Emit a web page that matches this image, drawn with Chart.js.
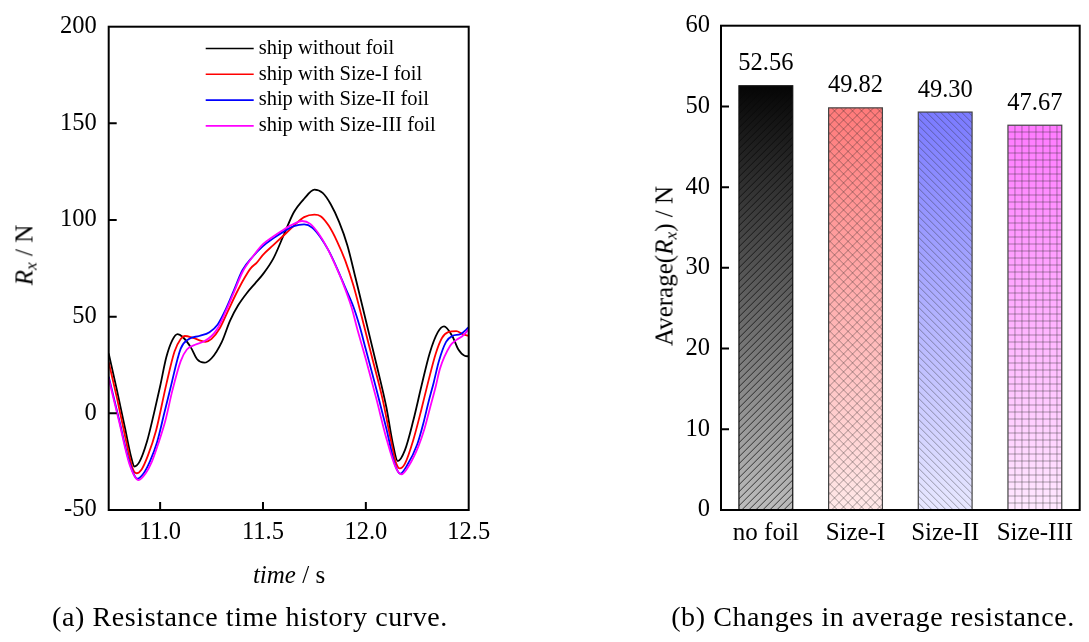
<!DOCTYPE html>
<html lang="en">
<head>
<meta charset="UTF-8">
<title>Resistance of ship with and without foil</title>
<script src="https://cdn.jsdelivr.net/npm/chart.js"></script>
<style>
  body { margin: 0; background: #fff; width: 1089px; height: 642px; position: relative; overflow: hidden; font-family: 'Liberation Serif', serif; color: #000; }
  canvas { position: absolute; top: 0; }
  .lbl { position: absolute; white-space: nowrap; transform: translate(-50%, -50%); font-size: 25px; line-height: 1; }
  .rot { transform: translate(-50%, -50%) rotate(-90deg); }
  .cap { font-size: 28px; letter-spacing: 0.6px; }
  sub { font-size: 0.7em; vertical-align: -0.25em; line-height: 0; }
</style>
</head>
<body>
<canvas id="lineChart" width="520" height="642" style="left:0"></canvas>
<canvas id="barChart" width="549" height="642" style="left:540px"></canvas>
<div class="lbl rot" style="left:24px; top:255px"><i>R</i><sub><i>x</i></sub> / N</div>
<div class="lbl" style="left:289px; top:574px"><i>time</i> / s</div>
<div class="lbl cap" style="left:250px; top:617px">(a) Resistance time history curve.</div>
<div class="lbl rot" style="left:664px; top:266px">Average(<i>R</i><sub><i>x</i></sub>) / N</div>
<div class="lbl cap" style="left:873px; top:617px">(b) Changes in average resistance.</div>
<script>
// (a) time history, one x/y pair of arrays per case
const timeTicks = [11.0, 11.5, 12.0, 12.5];
const seriesNames = ['ship without foil', 'ship with Size-I foil', 'ship with Size-II foil', 'ship with Size-III foil'];
const seriesColors = ['#000000', '#ff0000', '#0000ff', '#ff00ff'];

const tNoFoil = [10.75, 10.79, 10.83, 10.86, 10.875, 10.9, 10.935, 10.97, 11.0, 11.03, 11.06, 11.085, 11.11, 11.15, 11.18, 11.215, 11.25, 11.3, 11.34, 11.38, 11.42, 11.46, 11.5, 11.55, 11.6, 11.65, 11.7, 11.75, 11.79, 11.83, 11.87, 11.91, 11.95, 12.0, 12.05, 12.1, 12.13, 12.155, 12.19, 12.23, 12.27, 12.31, 12.35, 12.38, 12.42, 12.45, 12.48, 12.5];
const rxNoFoil = [31, 12, -8, -23, -27.5, -25, -15, 0, 14, 29, 38, 41, 39.5, 34, 28, 26.2, 28.5, 37, 48, 56, 62, 67, 72, 80, 92, 104, 111, 115.7, 114, 108, 99, 87, 70, 48, 26, 3, -15, -24.7, -19, -4, 14, 31, 42, 45, 40, 33, 29.8, 29.5];

const tSize1 = [10.75, 10.79, 10.83, 10.865, 10.885, 10.91, 10.94, 10.98, 11.03, 11.07, 11.1, 11.12, 11.16, 11.2, 11.22, 11.25, 11.29, 11.33, 11.37, 11.41, 11.44, 11.47, 11.5, 11.55, 11.6, 11.65, 11.7, 11.75, 11.78, 11.82, 11.86, 11.9, 11.94, 11.98, 12.03, 12.08, 12.12, 12.145, 12.165, 12.19, 12.23, 12.27, 12.3, 12.34, 12.37, 12.4, 12.44, 12.47, 12.5];
const rxSize1 = [26.5, 8, -12, -28, -31, -29, -22, -9, 15, 32, 38.5, 40, 39, 37.5, 37, 38.5, 44, 53, 62, 70, 75, 78, 82, 87, 92, 97, 101.5, 102.8, 102, 97, 89, 79, 66, 50, 29, 8, -13, -25, -28.5, -26, -14, 2, 15, 31, 39, 42, 42.5, 41, 40];

const tSize2 = [10.75, 10.8, 10.85, 10.89, 10.92, 10.95, 10.985, 11.02, 11.05, 11.1, 11.14, 11.19, 11.24, 11.28, 11.32, 11.36, 11.4, 11.45, 11.5, 11.55, 11.6, 11.65, 11.7, 11.74, 11.78, 11.82, 11.86, 11.9, 11.94, 11.97, 12.0, 12.05, 12.1, 12.14, 12.167, 12.2, 12.25, 12.28, 12.305, 12.33, 12.355, 12.39, 12.42, 12.46, 12.5];
const rxSize2 = [19, -3, -25, -33.8, -31, -25, -15, 0, 13, 33.5, 38.5, 40, 42, 46, 54, 64, 74, 81, 86.5, 90.5, 94, 96.8, 97.7, 96, 91, 84, 75, 65, 55, 45, 33, 13, -8, -26, -31.2, -27, -16, -5, 6, 16, 27, 37, 40, 41, 44.5];

const tSize3 = [10.75, 10.8, 10.85, 10.895, 10.93, 10.96, 10.99, 11.025, 11.06, 11.1, 11.13, 11.17, 11.21, 11.25, 11.28, 11.32, 11.36, 11.4, 11.45, 11.5, 11.55, 11.6, 11.65, 11.69, 11.73, 11.77, 11.81, 11.85, 11.89, 11.93, 11.96, 12.0, 12.05, 12.1, 12.145, 12.172, 12.21, 12.256, 12.285, 12.31, 12.34, 12.36, 12.41, 12.44, 12.47, 12.5];
const rxSize3 = [18, -4, -26, -34.5, -31, -25, -16, -4, 12, 27, 33, 35.5, 37, 40, 44, 53, 63, 73, 81, 87.5, 91.5, 95, 98, 99.5, 98, 93, 86, 77, 67, 55, 43, 28, 8, -13, -28, -31.6, -27, -17, -8, 2, 14, 23, 35, 38, 40, 43.5];

// (b) average resistance
const barLabels = ['no foil', 'Size-I', 'Size-II', 'Size-III'];
const barValues = [52.56, 49.82, 49.30, 47.67];
const barTopColors = ['#050505', '#ff7a7a', '#7a7aff', '#ff7aff'];
const barBottomColors = ['#bdbdbd', '#ffe8e8', '#e8e8ff', '#ffe8ff'];
const barHatches = ['/', 'x', '\\', '+'];

const serif = 'Liberation Serif';

function pairs(ts, ys) {
  return ts.map((t, i) => ({ x: t, y: ys[i] }));
}

// closed frame with inward tick marks
const framePlugin = {
  id: 'frame',
  afterDraw(chart, args, opts) {
    const { ctx, chartArea: a } = chart;
    ctx.save();
    ctx.strokeStyle = '#000';
    ctx.lineWidth = 2;
    ctx.strokeRect(a.left, a.top, a.right - a.left, a.bottom - a.top);
    ctx.beginPath();
    if (opts.xTicks) {
      const xs = chart.scales.x;
      xs.ticks.forEach(t => {
        const px = xs.getPixelForValue(t.value);
        if (px > a.left + 2 && px < a.right - 2) { ctx.moveTo(px, a.bottom); ctx.lineTo(px, a.bottom - 8); }
      });
    }
    const ys = chart.scales.y;
    ys.ticks.forEach(t => {
      const py = ys.getPixelForValue(t.value);
      if (py > a.top + 2 && py < a.bottom - 2) { ctx.moveTo(a.left, py); ctx.lineTo(a.left + 8, py); }
    });
    ctx.stroke();
    ctx.restore();
  }
};

const innerLegend = {
  id: 'innerLegend',
  afterDraw(chart) {
    const { ctx, chartArea: a } = chart;
    ctx.save();
    ctx.font = '20.5px "' + serif + '"';
    ctx.textBaseline = 'middle';
    ctx.textAlign = 'left';
    chart.data.datasets.forEach((ds, i) => {
      const y = a.top + 21.8 + i * 25.8;
      const x0 = a.left + 97;
      ctx.strokeStyle = ds.borderColor;
      ctx.lineWidth = 1.6;
      ctx.beginPath();
      ctx.moveTo(x0, y);
      ctx.lineTo(x0 + 48, y);
      ctx.stroke();
      ctx.fillStyle = '#000';
      ctx.fillText(ds.label, x0 + 53, y);
    });
    ctx.restore();
  }
};

const lineSeries = [pairs(tNoFoil, rxNoFoil), pairs(tSize1, rxSize1), pairs(tSize2, rxSize2), pairs(tSize3, rxSize3)];

new Chart(document.getElementById('lineChart'), {
  type: 'line',
  data: {
    datasets: lineSeries.map((pts, i) => ({
      label: seriesNames[i],
      data: pts,
      order: lineSeries.length - 1 - i,
      borderColor: seriesColors[i],
      borderWidth: 1.8,
      pointRadius: 0,
      fill: false,
      cubicInterpolationMode: 'monotone'
    }))
  },
  options: {
    responsive: false,
    animation: false,
    layout: { padding: { top: 20, right: 51.3, bottom: 0, left: 0 } },
    plugins: {
      legend: { display: false },
      tooltip: { enabled: false },
      frame: { xTicks: true }
    },
    scales: {
      x: {
        type: 'linear', min: 10.75, max: 12.5,
        grid: { display: false, drawTicks: false },
        border: { display: false },
        afterBuildTicks: s => { s.ticks = timeTicks.map(v => ({ value: v })); },
        afterFit: s => { s.height = 132; },
        ticks: { color: '#000', padding: 8, font: { family: serif, size: 24.5 }, callback: v => Number(v).toFixed(1) }
      },
      y: {
        min: -50, max: 200,
        grid: { display: false, drawTicks: false },
        border: { display: false },
        afterFit: s => { s.width = 108.7; },
        ticks: { stepSize: 50, color: '#000', padding: 12, font: { family: serif, size: 24.5 } }
      }
    }
  },
  plugins: [framePlugin, innerLegend]
});

// hatch overlay for each bar
function drawHatch(ctx, kind, l, t, r, b, step) {
  const h = b - t, w = r - l;
  ctx.beginPath();
  if (kind === '/' || kind === 'x') {
    for (let s = -h; s < w + h; s += step) { ctx.moveTo(l + s, b); ctx.lineTo(l + s + h, t); }
  }
  if (kind === '\\' || kind === 'x') {
    for (let s = -h; s < w + h; s += step) { ctx.moveTo(l + s, t); ctx.lineTo(l + s + h, b); }
  }
  if (kind === '+') {
    for (let x = l + step; x < r; x += step) { ctx.moveTo(x, t); ctx.lineTo(x, b); }
    for (let y = b - step; y > t; y -= step) { ctx.moveTo(l, y); ctx.lineTo(r, y); }
  }
  ctx.stroke();
}

const barDecor = {
  id: 'barDecor',
  afterDatasetsDraw(chart) {
    const { ctx } = chart;
    const meta = chart.getDatasetMeta(0);
    ctx.save();
    meta.data.forEach((bar, i) => {
      const p = bar.getProps(['x', 'y', 'base', 'width'], true);
      const l = p.x - p.width / 2, r = p.x + p.width / 2;
      ctx.save();
      ctx.beginPath();
      ctx.rect(l, p.y, r - l, p.base - p.y);
      ctx.clip();
      ctx.strokeStyle = i === 0 ? 'rgba(10,10,10,0.75)' : 'rgba(40,40,40,0.5)';
      ctx.lineWidth = i === 0 ? 1 : 0.8;
      drawHatch(ctx, barHatches[i], l, p.y, r, p.base, barHatches[i] === 'x' ? 9 : 7);
      ctx.restore();
      ctx.strokeStyle = i === 0 ? '#111' : '#444';
      ctx.lineWidth = 1.2;
      ctx.strokeRect(l, p.y, r - l, p.base - p.y);
      ctx.fillStyle = '#000';
      ctx.font = '24.5px "' + serif + '"';
      ctx.textAlign = 'center';
      ctx.textBaseline = 'middle';
      ctx.fillText(chart.data.datasets[0].data[i].toFixed(2), p.x, p.y - 22);
    });
    ctx.restore();
  }
};

new Chart(document.getElementById('barChart'), {
  type: 'bar',
  data: {
    labels: barLabels,
    datasets: [{
      data: barValues,
      barPercentage: 0.6,
      categoryPercentage: 1,
      borderWidth: 0,
      backgroundColor: c => {
        const i = c.dataIndex;
        const area = c.chart.chartArea;
        if (!area || i === undefined) return barTopColors[i] || '#888';
        const ys = c.chart.scales.y;
        const g = c.chart.ctx.createLinearGradient(0, ys.getPixelForValue(barValues[i]), 0, ys.getPixelForValue(0));
        g.addColorStop(0, barTopColors[i]);
        g.addColorStop(1, barBottomColors[i]);
        return g;
      }
    }]
  },
  options: {
    responsive: false,
    animation: false,
    layout: { padding: { top: 20, right: 9.3, bottom: 0, left: 0 } },
    plugins: {
      legend: { display: false },
      tooltip: { enabled: false },
      frame: { xTicks: false }
    },
    scales: {
      x: {
        grid: { display: false, drawTicks: false },
        border: { display: false },
        afterFit: s => { s.height = 132; },
        ticks: { color: '#000', padding: 8, font: { family: serif, size: 25 } }
      },
      y: {
        min: 0, max: 60,
        grid: { display: false, drawTicks: false },
        border: { display: false },
        afterFit: s => { s.width = 181; },
        ticks: { stepSize: 10, color: '#000', padding: 11, font: { family: serif, size: 24.5 } }
      }
    }
  },
  plugins: [framePlugin, barDecor]
});
</script>
</body>
</html>
